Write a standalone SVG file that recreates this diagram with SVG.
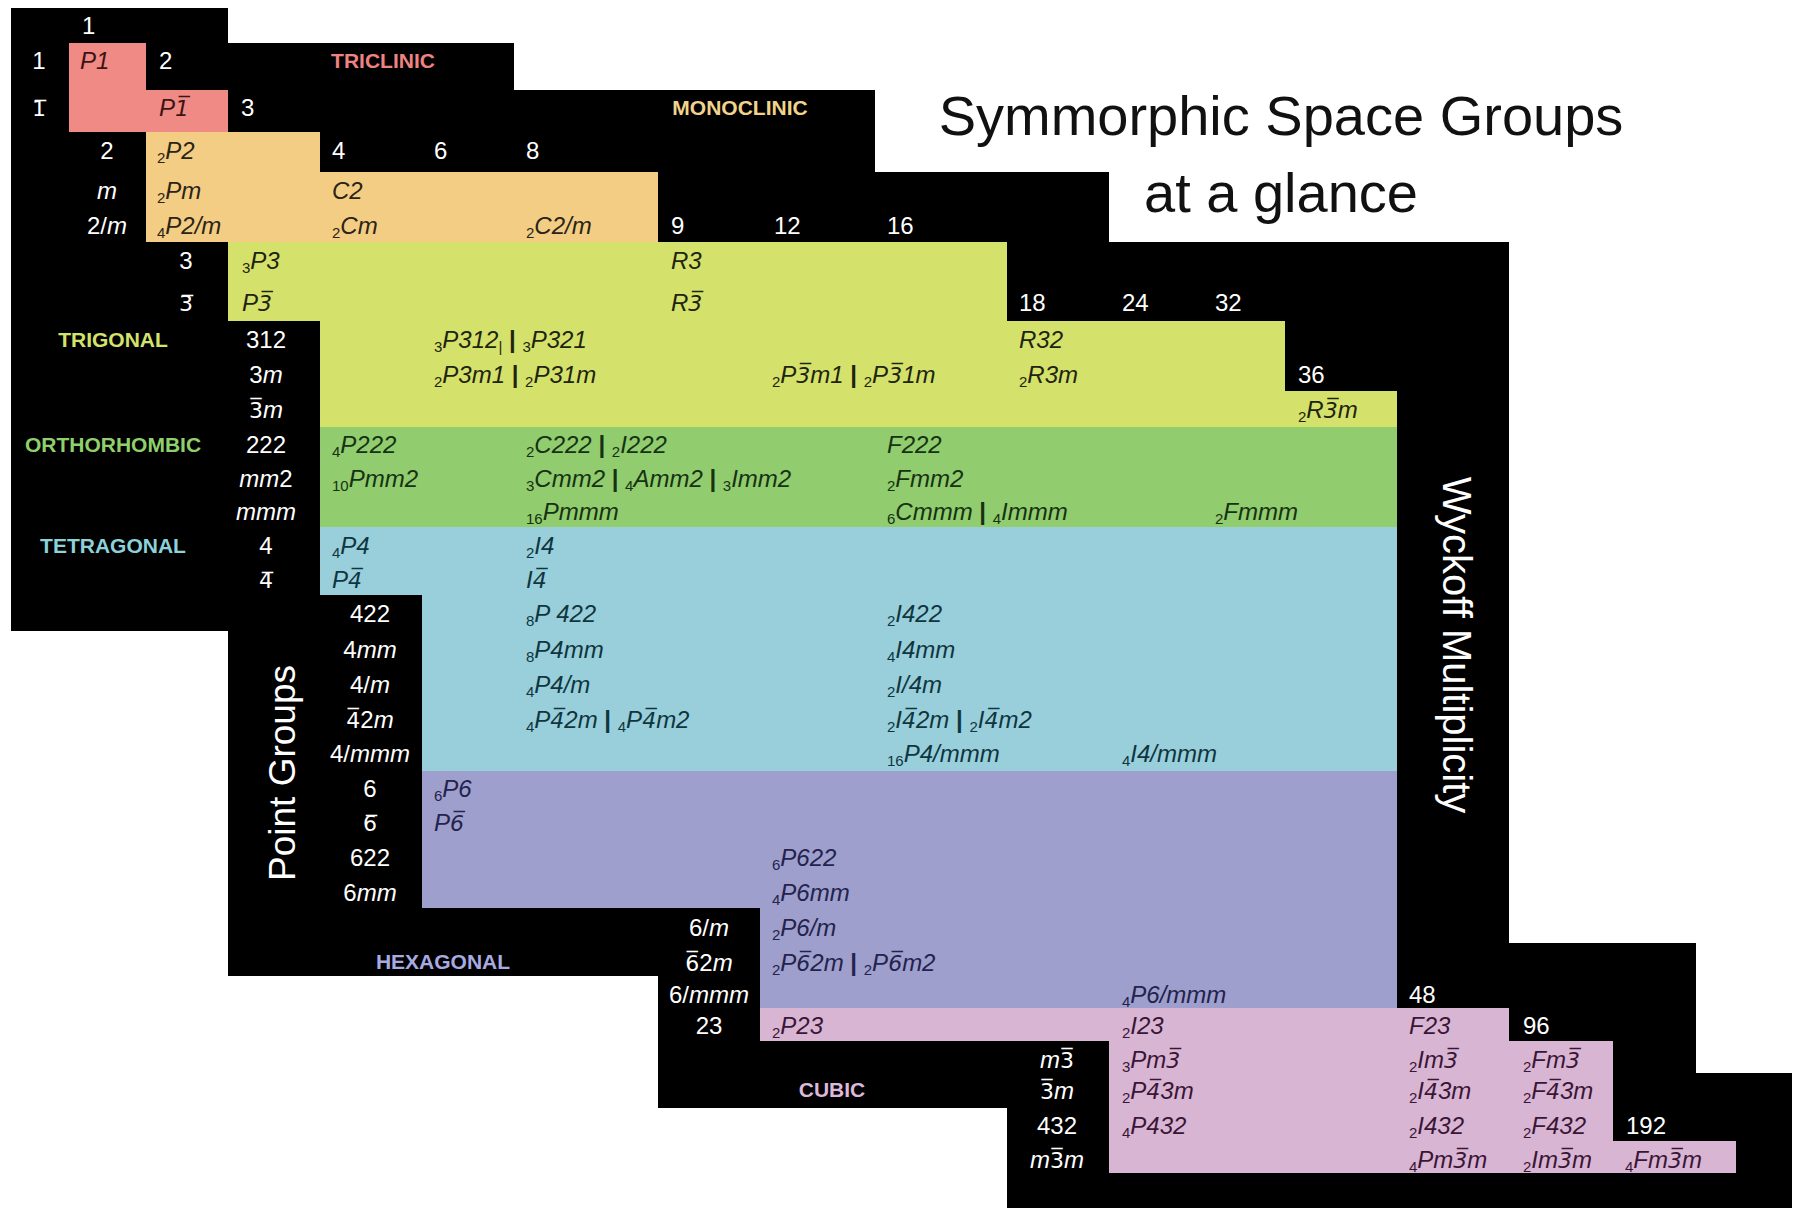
<svg xmlns="http://www.w3.org/2000/svg" width="1800" height="1216" viewBox="0 0 1800 1216">
<style>
text{font-family:"Liberation Sans",Arial,sans-serif}
.w{fill:#fff;font-size:24px}
.pg{fill:#fff;font-size:24px;text-anchor:middle}
.it{font-style:italic}
.sg{font-size:24px;font-style:italic}
.p{font-size:15px;font-style:normal}
.sep{font-style:normal;font-weight:bold}
.ob{font-family:"DejaVu Sans",sans-serif;font-size:22px}
.cat{font-size:21px;font-weight:bold;text-anchor:middle}
.c1{fill:#3d1414}.c2{fill:#2b2417}.c3{fill:#1f2410}.c4{fill:#163212}.c5{fill:#0f3640}.c6{fill:#23234d}.c7{fill:#3a1636}
</style>
<rect width="1800" height="1216" fill="#fff"/>
<g id="background">
<polygon fill="#000" points="11,8 228,8 228,43 514,43 514,90 875,90 875,172 1109,172 1109,242 1509,242 1509,943 1696,943 1696,1073 1792,1073 1792,1208 1007,1208 1007,1108 658,1108 658,976 228,976 228,631 11,631"/>
</g>
<g id="regions">
<polygon id="triclinic-area" fill="#EF8A84" points="69,43 146,43 146,90 228,90 228,132 69,132"/>
<polygon id="monoclinic-area" fill="#F3CD84" points="146,132 320,132 320,172 658,172 658,242 146,242"/>
<polygon id="trigonal-area" fill="#D4E26B" points="228,242 1007,242 1007,321 1285,321 1285,391 1397,391 1397,427 320,427 320,321 228,321"/>
<rect id="orthorhombic-area" fill="#91CC6F" x="320" y="427" width="1077" height="100"/>
<polygon id="tetragonal-area" fill="#99CFDA" points="320,527 1397,527 1397,771 422,771 422,595 320,595"/>
<polygon id="hexagonal-area" fill="#9E9FCC" points="422,771 1397,771 1397,1008 760,1008 760,908 422,908"/>
<polygon id="cubic-area" fill="#D9B5D4" points="760,1008 1509,1008 1509,1041 1613,1041 1613,1141 1736,1141 1736,1173 1109,1173 1109,1041 760,1041"/>
</g>
<g id="title">
<text x="1281" y="135" font-size="56" text-anchor="middle" fill="#111">Symmorphic Space Groups</text>
<text x="1281" y="212" font-size="56" text-anchor="middle" fill="#111">at a glance</text>
</g>
<g id="axis-labels">
<text transform="translate(295,773) rotate(-90)" font-size="37" text-anchor="middle" fill="#fff">Point Groups</text>
<text transform="translate(1443,645) rotate(90)" font-size="40" text-anchor="middle" fill="#fff">Wyckoff Multiplicity</text>
</g>
<g id="system-labels">
<text class="cat" x="383" y="68" fill="#EE8382">TRICLINIC</text>
<text class="cat" x="740" y="115" fill="#F0D48C">MONOCLINIC</text>
<text class="cat" x="113" y="347" fill="#D3E36B">TRIGONAL</text>
<text class="cat" x="113" y="452" fill="#8FD06C">ORTHORHOMBIC</text>
<text class="cat" x="113" y="553" fill="#8CD2DA">TETRAGONAL</text>
<text class="cat" x="443" y="969" fill="#A9AAE2">HEXAGONAL</text>
<text class="cat" x="832" y="1097" fill="#DDB8DC">CUBIC</text>
</g>
<g id="multiplicities">
<text class="w" x="82" y="34">1</text>
<text class="w" x="159" y="69">2</text>
<text class="w" x="241" y="116">3</text>
<text class="w" x="332" y="159">4</text>
<text class="w" x="434" y="159">6</text>
<text class="w" x="526" y="159">8</text>
<text class="w" x="671" y="234">9</text>
<text class="w" x="774" y="234">12</text>
<text class="w" x="887" y="234">16</text>
<text class="w" x="1019" y="311">18</text>
<text class="w" x="1122" y="311">24</text>
<text class="w" x="1215" y="311">32</text>
<text class="w" x="1298" y="383">36</text>
<text class="w" x="1409" y="1003">48</text>
<text class="w" x="1523" y="1034">96</text>
<text class="w" x="1626" y="1134">192</text>
</g>
<g id="point-groups">
<text class="pg" x="39" y="69">1</text>
<text class="pg" x="39" y="116"><tspan class="ob">1&#x305;</tspan></text>
<text class="pg" x="107" y="159">2</text>
<text class="pg it" x="107" y="199">m</text>
<text class="pg" x="107" y="234">2/<tspan class="it">m</tspan></text>
<text class="pg" x="186" y="269">3</text>
<text class="pg" x="186" y="311"><tspan class="ob">3&#x305;</tspan></text>
<text class="pg" x="266" y="348">312</text>
<text class="pg" x="266" y="383">3<tspan class="it">m</tspan></text>
<text class="pg" x="266" y="418"><tspan class="ob">3&#x305;</tspan><tspan class="it">m</tspan></text>
<text class="pg" x="266" y="453">222</text>
<text class="pg" x="266" y="487"><tspan class="it">mm</tspan>2</text>
<text class="pg it" x="266" y="520">mmm</text>
<text class="pg" x="266" y="554">4</text>
<text class="pg" x="266" y="588"><tspan class="ob">4&#x305;</tspan></text>
<text class="pg" x="370" y="622">422</text>
<text class="pg" x="370" y="658">4<tspan class="it">mm</tspan></text>
<text class="pg" x="370" y="693">4/<tspan class="it">m</tspan></text>
<text class="pg" x="370" y="728"><tspan class="ob">4&#x305;</tspan>2<tspan class="it">m</tspan></text>
<text class="pg" x="370" y="762">4/<tspan class="it">mmm</tspan></text>
<text class="pg" x="370" y="797">6</text>
<text class="pg" x="370" y="831"><tspan class="ob">6&#x305;</tspan></text>
<text class="pg" x="370" y="866">622</text>
<text class="pg" x="370" y="901">6<tspan class="it">mm</tspan></text>
<text class="pg" x="709" y="936">6/<tspan class="it">m</tspan></text>
<text class="pg" x="709" y="971"><tspan class="ob">6&#x305;</tspan>2<tspan class="it">m</tspan></text>
<text class="pg" x="709" y="1003">6/<tspan class="it">mmm</tspan></text>
<text class="pg" x="709" y="1034">23</text>
<text class="pg" x="1057" y="1068"><tspan class="it">m</tspan><tspan class="ob">3&#x305;</tspan></text>
<text class="pg" x="1057" y="1099"><tspan class="ob">3&#x305;</tspan><tspan class="it">m</tspan></text>
<text class="pg" x="1057" y="1134">432</text>
<text class="pg" x="1057" y="1168"><tspan class="it">m</tspan><tspan class="ob">3&#x305;</tspan><tspan class="it">m</tspan></text>
</g>
<g id="triclinic">
<text class="sg c1" x="80" y="69">P1</text>
<text class="sg c1" x="159" y="116">P<tspan class="ob">1&#x305;</tspan></text>
</g>
<g id="monoclinic">
<text class="sg c2" x="157" y="159"><tspan class="p" dy="4">2</tspan><tspan dy="-4">P2</tspan></text>
<text class="sg c2" x="157" y="199"><tspan class="p" dy="4">2</tspan><tspan dy="-4">Pm</tspan></text>
<text class="sg c2" x="157" y="234"><tspan class="p" dy="4">4</tspan><tspan dy="-4">P2/m</tspan></text>
<text class="sg c2" x="332" y="199">C2</text>
<text class="sg c2" x="332" y="234"><tspan class="p" dy="4">2</tspan><tspan dy="-4">Cm</tspan></text>
<text class="sg c2" x="526" y="234"><tspan class="p" dy="4">2</tspan><tspan dy="-4">C2/m</tspan></text>
</g>
<g id="trigonal">
<text class="sg c3" x="242" y="269"><tspan class="p" dy="4">3</tspan><tspan dy="-4">P3</tspan></text>
<text class="sg c3" x="242" y="311">P<tspan class="ob">3&#x305;</tspan></text>
<text class="sg c3" x="671" y="269">R3</text>
<text class="sg c3" x="671" y="311">R<tspan class="ob">3&#x305;</tspan></text>
<text class="sg c3" x="434" y="348"><tspan class="p" dy="4">3</tspan><tspan dy="-4">P312</tspan><tspan class="p" dy="4">|</tspan><tspan class="sep" dy="-4"> | </tspan><tspan class="p" dy="4">3</tspan><tspan dy="-4">P321</tspan></text>
<text class="sg c3" x="434" y="383"><tspan class="p" dy="4">2</tspan><tspan dy="-4">P3m1</tspan><tspan class="sep"> | </tspan><tspan class="p" dy="4">2</tspan><tspan dy="-4">P31m</tspan></text>
<text class="sg c3" x="772" y="383"><tspan class="p" dy="4">2</tspan><tspan dy="-4">P</tspan><tspan class="ob">3&#x305;</tspan>m1<tspan class="sep"> | </tspan><tspan class="p" dy="4">2</tspan><tspan dy="-4">P</tspan><tspan class="ob">3&#x305;</tspan>1m</text>
<text class="sg c3" x="1019" y="348">R32</text>
<text class="sg c3" x="1019" y="383"><tspan class="p" dy="4">2</tspan><tspan dy="-4">R3m</tspan></text>
<text class="sg c3" x="1298" y="418"><tspan class="p" dy="4">2</tspan><tspan dy="-4">R</tspan><tspan class="ob">3&#x305;</tspan>m</text>
</g>
<g id="orthorhombic">
<text class="sg c4" x="332" y="453"><tspan class="p" dy="4">4</tspan><tspan dy="-4">P222</tspan></text>
<text class="sg c4" x="526" y="453"><tspan class="p" dy="4">2</tspan><tspan dy="-4">C222</tspan><tspan class="sep"> | </tspan><tspan class="p" dy="4">2</tspan><tspan dy="-4">I222</tspan></text>
<text class="sg c4" x="332" y="487"><tspan class="p" dy="4">10</tspan><tspan dy="-4">Pmm2</tspan></text>
<text class="sg c4" x="526" y="487"><tspan class="p" dy="4">3</tspan><tspan dy="-4">Cmm2</tspan><tspan class="sep"> | </tspan><tspan class="p" dy="4">4</tspan><tspan dy="-4">Amm2</tspan><tspan class="sep"> | </tspan><tspan class="p" dy="4">3</tspan><tspan dy="-4">Imm2</tspan></text>
<text class="sg c4" x="526" y="520"><tspan class="p" dy="4">16</tspan><tspan dy="-4">Pmmm</tspan></text>
<text class="sg c4" x="887" y="453">F222</text>
<text class="sg c4" x="887" y="487"><tspan class="p" dy="4">2</tspan><tspan dy="-4">Fmm2</tspan></text>
<text class="sg c4" x="887" y="520"><tspan class="p" dy="4">6</tspan><tspan dy="-4">Cmmm</tspan><tspan class="sep"> | </tspan><tspan class="p" dy="4">4</tspan><tspan dy="-4">Immm</tspan></text>
<text class="sg c4" x="1215" y="520"><tspan class="p" dy="4">2</tspan><tspan dy="-4">Fmmm</tspan></text>
</g>
<g id="tetragonal">
<text class="sg c5" x="332" y="554"><tspan class="p" dy="4">4</tspan><tspan dy="-4">P4</tspan></text>
<text class="sg c5" x="332" y="588">P<tspan class="ob">4&#x305;</tspan></text>
<text class="sg c5" x="526" y="554"><tspan class="p" dy="4">2</tspan><tspan dy="-4">I4</tspan></text>
<text class="sg c5" x="526" y="588">I<tspan class="ob">4&#x305;</tspan></text>
<text class="sg c5" x="526" y="622"><tspan class="p" dy="4">8</tspan><tspan dy="-4">P 422</tspan></text>
<text class="sg c5" x="526" y="658"><tspan class="p" dy="4">8</tspan><tspan dy="-4">P4mm</tspan></text>
<text class="sg c5" x="526" y="693"><tspan class="p" dy="4">4</tspan><tspan dy="-4">P4/m</tspan></text>
<text class="sg c5" x="526" y="728"><tspan class="p" dy="4">4</tspan><tspan dy="-4">P</tspan><tspan class="ob">4&#x305;</tspan>2m<tspan class="sep"> | </tspan><tspan class="p" dy="4">4</tspan><tspan dy="-4">P</tspan><tspan class="ob">4&#x305;</tspan>m2</text>
<text class="sg c5" x="887" y="622"><tspan class="p" dy="4">2</tspan><tspan dy="-4">I422</tspan></text>
<text class="sg c5" x="887" y="658"><tspan class="p" dy="4">4</tspan><tspan dy="-4">I4mm</tspan></text>
<text class="sg c5" x="887" y="693"><tspan class="p" dy="4">2</tspan><tspan dy="-4">I/4m</tspan></text>
<text class="sg c5" x="887" y="728"><tspan class="p" dy="4">2</tspan><tspan dy="-4">I</tspan><tspan class="ob">4&#x305;</tspan>2m<tspan class="sep"> | </tspan><tspan class="p" dy="4">2</tspan><tspan dy="-4">I</tspan><tspan class="ob">4&#x305;</tspan>m2</text>
<text class="sg c5" x="887" y="762"><tspan class="p" dy="4">16</tspan><tspan dy="-4">P4/mmm</tspan></text>
<text class="sg c5" x="1122" y="762"><tspan class="p" dy="4">4</tspan><tspan dy="-4">I4/mmm</tspan></text>
</g>
<g id="hexagonal">
<text class="sg c6" x="434" y="797"><tspan class="p" dy="4">6</tspan><tspan dy="-4">P6</tspan></text>
<text class="sg c6" x="434" y="831">P<tspan class="ob">6&#x305;</tspan></text>
<text class="sg c6" x="772" y="866"><tspan class="p" dy="4">6</tspan><tspan dy="-4">P622</tspan></text>
<text class="sg c6" x="772" y="901"><tspan class="p" dy="4">4</tspan><tspan dy="-4">P6mm</tspan></text>
<text class="sg c6" x="772" y="936"><tspan class="p" dy="4">2</tspan><tspan dy="-4">P6/m</tspan></text>
<text class="sg c6" x="772" y="971"><tspan class="p" dy="4">2</tspan><tspan dy="-4">P</tspan><tspan class="ob">6&#x305;</tspan>2m<tspan class="sep"> | </tspan><tspan class="p" dy="4">2</tspan><tspan dy="-4">P</tspan><tspan class="ob">6&#x305;</tspan>m2</text>
<text class="sg c6" x="1122" y="1003"><tspan class="p" dy="4">4</tspan><tspan dy="-4">P6/mmm</tspan></text>
</g>
<g id="cubic">
<text class="sg c7" x="772" y="1034"><tspan class="p" dy="4">2</tspan><tspan dy="-4">P23</tspan></text>
<text class="sg c7" x="1122" y="1034"><tspan class="p" dy="4">2</tspan><tspan dy="-4">I23</tspan></text>
<text class="sg c7" x="1122" y="1068"><tspan class="p" dy="4">3</tspan><tspan dy="-4">Pm</tspan><tspan class="ob">3&#x305;</tspan></text>
<text class="sg c7" x="1122" y="1099"><tspan class="p" dy="4">2</tspan><tspan dy="-4">P</tspan><tspan class="ob">4&#x305;</tspan>3m</text>
<text class="sg c7" x="1122" y="1134"><tspan class="p" dy="4">4</tspan><tspan dy="-4">P432</tspan></text>
<text class="sg c7" x="1409" y="1034">F23</text>
<text class="sg c7" x="1409" y="1068"><tspan class="p" dy="4">2</tspan><tspan dy="-4">Im</tspan><tspan class="ob">3&#x305;</tspan></text>
<text class="sg c7" x="1409" y="1099"><tspan class="p" dy="4">2</tspan><tspan dy="-4">I</tspan><tspan class="ob">4&#x305;</tspan>3m</text>
<text class="sg c7" x="1409" y="1134"><tspan class="p" dy="4">2</tspan><tspan dy="-4">I432</tspan></text>
<text class="sg c7" x="1409" y="1168"><tspan class="p" dy="4">4</tspan><tspan dy="-4">Pm</tspan><tspan class="ob">3&#x305;</tspan>m</text>
<text class="sg c7" x="1523" y="1068"><tspan class="p" dy="4">2</tspan><tspan dy="-4">Fm</tspan><tspan class="ob">3&#x305;</tspan></text>
<text class="sg c7" x="1523" y="1099"><tspan class="p" dy="4">2</tspan><tspan dy="-4">F</tspan><tspan class="ob">4&#x305;</tspan>3m</text>
<text class="sg c7" x="1523" y="1134"><tspan class="p" dy="4">2</tspan><tspan dy="-4">F432</tspan></text>
<text class="sg c7" x="1523" y="1168"><tspan class="p" dy="4">2</tspan><tspan dy="-4">Im</tspan><tspan class="ob">3&#x305;</tspan>m</text>
<text class="sg c7" x="1625" y="1168"><tspan class="p" dy="4">4</tspan><tspan dy="-4">Fm</tspan><tspan class="ob">3&#x305;</tspan>m</text>
</g>
</svg>
